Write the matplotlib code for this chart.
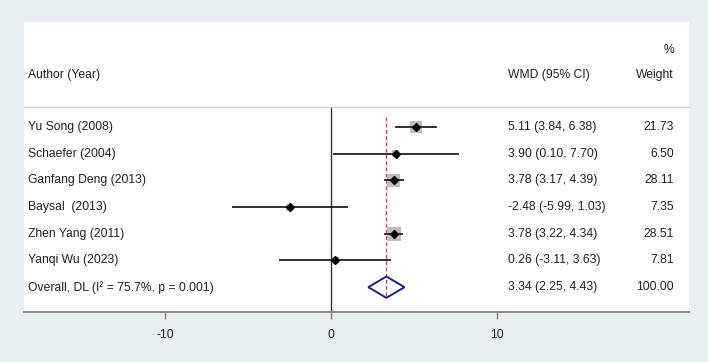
import matplotlib.pyplot as plt
import matplotlib.transforms as mtransforms
from matplotlib.patches import Polygon

plt.rcParams['font.family'] = ['Liberation Sans', 'DejaVu Sans']

# data
studies = ["Yu Song (2008)", "Schaefer (2004)", "Ganfang Deng (2013)",
           "Baysal  (2013)", "Zhen Yang (2011)", "Yanqi Wu (2023)"]
wmd = [5.11, 3.90, 3.78, -2.48, 3.78, 0.26]
lo = [3.84, 0.10, 3.17, -5.99, 3.22, -3.11]
hi = [6.38, 7.70, 4.39, 1.03, 4.34, 3.63]
weight = [21.73, 6.50, 28.11, 7.35, 28.51, 7.81]
overall = 3.34
overall_lo = 2.25
overall_hi = 4.43
overall_label = "Overall, DL (I\u00b2 = 75.7%, p = 0.001)"
xticks = [-10, 0, 10]

bg = '#e8eff2'
W, H = 708, 362
fig = plt.figure(figsize=(W / 100, H / 100), dpi=100, facecolor=bg)

# white panel behind everything
panel = fig.add_axes([24 / W, 1 - 312 / H, 665 / W, 290 / H], zorder=0)
panel.set_facecolor('white')
panel.set_xticks([])
panel.set_yticks([])
for s in panel.spines.values():
    s.set_visible(False)

ax = fig.add_axes([24 / W, 1 - 312 / H, 665 / W, 205 / H], zorder=1)
ax.set_facecolor('none')
ax.set_xlim(-18.49, 21.57)
ax.set_ylim(6.93, -0.75)

for s in ['left', 'right']:
    ax.spines[s].set_visible(False)
ax.spines['top'].set_color('#cfcfcf')
ax.spines['top'].set_linewidth(1.0)
ax.spines['bottom'].set_color('#7f7f7f')
ax.spines['bottom'].set_linewidth(1.3)
ax.set_yticks([])
ax.set_xticks(xticks)
ax.set_xticklabels([str(t) for t in xticks])
ax.tick_params(axis='x', direction='out', length=5, width=1, color='#7f7f7f',
               pad=7, labelsize=8.7, labelcolor='#222222')

rows = list(range(len(studies)))
n = len(studies)

# zero line and overall dashed line
ax.axvline(0, color='#333333', lw=1.0, zorder=1)
ax.plot([overall, overall], [-0.38, n + 0.42], color='#c8405e', lw=0.9,
        dashes=(3, 2), zorder=1)

# weight boxes, CIs and point estimates
ax.scatter(wmd, rows, marker='s', s=[w * 3.4 for w in weight],
           color='#bdbdbd', edgecolor='none', zorder=2)
ax.hlines(rows, lo, hi, color='#222222', lw=1.3, zorder=3)
ax.scatter(wmd, rows, marker='D', s=16, color='black', zorder=4)

# pooled diamond
ax.add_patch(Polygon([(overall_lo, n), (overall, n - 0.4),
                      (overall_hi, n), (overall, n + 0.4)],
                     closed=True, facecolor='none', edgecolor='#1f1f80',
                     lw=1.4, zorder=4))

trans = mtransforms.blended_transform_factory(ax.transAxes, ax.transData)
fs = 8.7
tc = '#222222'
labels = studies + [overall_label]
ci_text = ["%.2f (%.2f, %.2f)" % (m, a, b) for m, a, b in zip(wmd, lo, hi)]
ci_text.append("%.2f (%.2f, %.2f)" % (overall, overall_lo, overall_hi))
w_text = ["%.2f" % w for w in weight] + ["100.00"]
for i in range(n + 1):
    ax.text(0.006, i, labels[i], transform=trans, ha='left', va='center',
            fontsize=fs, color=tc)
    ax.text(0.728, i, ci_text[i], transform=trans, ha='left', va='center',
            fontsize=fs, color=tc)
    ax.text(0.977, i, w_text[i], transform=trans, ha='right', va='center',
            fontsize=fs, color=tc)

# header
fig.text(28 / W, 1 - 75 / H, "Author (Year)", ha='left', va='center',
         fontsize=fs, color=tc, zorder=3)
fig.text(508 / W, 1 - 75 / H, "WMD (95% CI)", ha='left', va='center',
         fontsize=fs, color=tc, zorder=3)
fig.text(674 / W, 1 - 75 / H, "Weight", ha='right', va='center',
         fontsize=fs, color=tc, zorder=3)
fig.text(674 / W, 1 - 50 / H, "%", ha='right', va='center',
         fontsize=fs, color=tc, zorder=3)

fig.savefig('out.png', dpi=100, facecolor=bg)
